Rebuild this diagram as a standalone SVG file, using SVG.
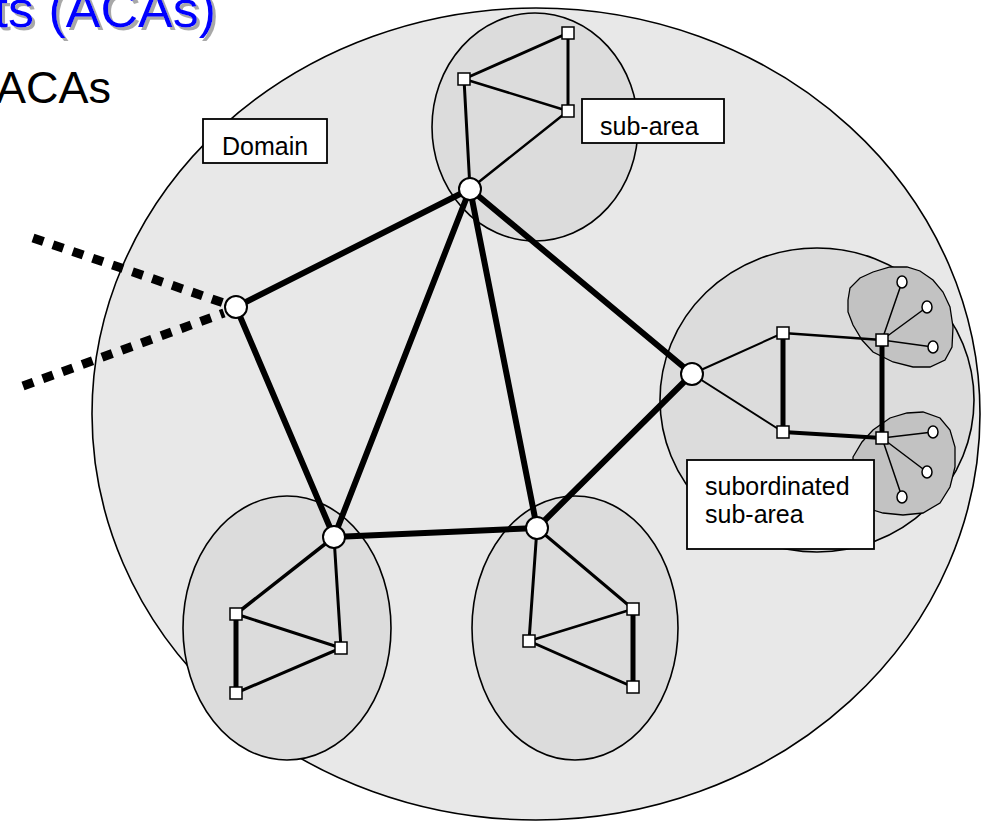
<svg xmlns="http://www.w3.org/2000/svg" width="982" height="822" viewBox="0 0 982 822">
<style>
.area{stroke:#000;stroke-width:1.6}
.dom{fill:#e8e8e8}
.sub{fill:#dcdcdc}
.blob{fill:#c2c2c2;stroke:#000;stroke-width:1.3}
.e{stroke:#000;stroke-linecap:round;fill:none}
.dot{stroke:#000;stroke-width:9;stroke-dasharray:11 10;fill:none}
.n{fill:#fff;stroke:#000;stroke-width:2}
.sq{fill:#fff;stroke:#000;stroke-width:1.5}
.lbl{fill:#fff;stroke:#000;stroke-width:1.8}
.t{font-family:"Liberation Sans",Arial,sans-serif;font-size:25px;fill:#000}
</style>
<defs>
<filter id="shadow" x="-10%" y="-30%" width="120%" height="160%">
<feOffset in="SourceAlpha" dx="3" dy="3" result="off"/>
<feFlood flood-color="#a8a8a8"/>
<feComposite in2="off" operator="in" result="sh"/>
<feMerge><feMergeNode in="sh"/><feMergeNode in="SourceGraphic"/></feMerge>
</filter>
</defs>
<rect width="982" height="822" fill="#fff"/>
<g id="title">
<text x="216" y="27" text-anchor="end" font-family="Liberation Sans, Arial, sans-serif" font-size="52" fill="#0000ff" filter="url(#shadow)">ts (ACAs)</text>
<text x="111" y="103" text-anchor="end" font-family="Liberation Sans, Arial, sans-serif" font-size="45" fill="#000">ACAs</text>
</g>
<g id="domain">
<ellipse class="area dom" cx="536" cy="414" rx="444" ry="406"/>
</g>
<g id="subarea-top"><ellipse class="area sub" cx="535" cy="127" rx="103" ry="114"/></g>
<g id="subarea-bl"><ellipse class="area sub" cx="287" cy="628" rx="104" ry="132"/></g>
<g id="subarea-bm"><ellipse class="area sub" cx="575" cy="628" rx="103" ry="132"/></g>
<g id="subarea-right"><ellipse class="area sub" cx="817" cy="400" rx="157" ry="152"/></g>
<g id="blob-top"><polygon class="blob" points="848,300 850,288 860,278 873,272 890,267 907,267 920,271 933,280 943,292 950,307 953,327 952,347 945,360 930,367 913,367 893,362 873,352 862,340 853,325 848,312"/></g>
<g id="blob-bottom"><polygon class="blob" points="853,457 862,442 873,430 890,418 907,413 923,412 940,418 950,430 955,447 955,467 950,487 940,503 923,513 903,515 883,513 873,510 857,497 853,480"/></g>
<g id="connectors">
<line class="dot" x1="33" y1="238" x2="224" y2="303"/>
<line class="dot" x1="23" y1="386" x2="224" y2="313"/>
<g class="e" stroke-width="6">
<line x1="236" y1="307" x2="470" y2="189"/>
<line x1="236" y1="307" x2="334" y2="537"/>
<line x1="470" y1="189" x2="334" y2="537"/>
<line x1="470" y1="189" x2="537" y2="528"/>
<line x1="470" y1="189" x2="692" y2="374"/>
<line x1="334" y1="537" x2="537" y2="528"/>
<line x1="537" y1="528" x2="692" y2="374"/>
</g>
<g class="e" stroke-width="3">
<line x1="464" y1="79" x2="568" y2="33"/>
<line x1="568" y1="33" x2="568" y2="111"/>
<line x1="464" y1="79" x2="568" y2="111" stroke-width="2.5"/>
<line x1="464" y1="79" x2="470" y2="189"/>
<line x1="568" y1="111" x2="470" y2="189" stroke-width="2.5"/>
<line x1="334" y1="537" x2="236" y2="614" stroke-width="3.5"/>
<line x1="334" y1="537" x2="341" y2="648"/>
<line x1="236" y1="614" x2="341" y2="648"/>
<line x1="236" y1="614" x2="236" y2="693" stroke-width="5"/>
<line x1="236" y1="693" x2="341" y2="648"/>
<line x1="537" y1="528" x2="529" y2="641"/>
<line x1="537" y1="528" x2="633" y2="609"/>
<line x1="633" y1="609" x2="529" y2="641" stroke-width="2.5"/>
<line x1="529" y1="641" x2="633" y2="687"/>
<line x1="633" y1="609" x2="633" y2="687" stroke-width="5"/>
<line x1="692" y1="374" x2="783" y2="333" stroke-width="2"/>
<line x1="692" y1="374" x2="783" y2="432" stroke-width="2"/>
<line x1="783" y1="333" x2="783" y2="432" stroke-width="5"/>
<line x1="783" y1="333" x2="882" y2="340" stroke-width="2.5"/>
<line x1="783" y1="432" x2="882" y2="438" stroke-width="4"/>
<line x1="882" y1="340" x2="882" y2="438" stroke-width="5"/>
</g>
<g class="e" stroke-width="1.5">
<line x1="882" y1="340" x2="902" y2="282"/>
<line x1="882" y1="340" x2="927" y2="307"/>
<line x1="882" y1="340" x2="933" y2="347"/>
<line x1="882" y1="438" x2="933" y2="432"/>
<line x1="882" y1="438" x2="927" y2="472"/>
<line x1="882" y1="438" x2="902" y2="497"/>
</g>
</g>
<g id="node-left"><circle class="n" cx="236" cy="307" r="11"/></g>
<g id="node-top"><circle class="n" cx="470" cy="189" r="11"/></g>
<g id="node-bl"><circle class="n" cx="334" cy="537" r="11"/></g>
<g id="node-bm"><circle class="n" cx="537" cy="528" r="11"/></g>
<g id="node-right"><circle class="n" cx="692" cy="374" r="11"/></g>
<g id="sq-t1"><rect class="sq" x="562" y="27" width="12" height="12"/></g>
<g id="sq-t2"><rect class="sq" x="458" y="73" width="12" height="12"/></g>
<g id="sq-t3"><rect class="sq" x="562" y="105" width="12" height="12"/></g>
<g id="sq-bl1"><rect class="sq" x="230" y="608" width="12" height="12"/></g>
<g id="sq-bl2"><rect class="sq" x="335" y="642" width="12" height="12"/></g>
<g id="sq-bl3"><rect class="sq" x="230" y="687" width="12" height="12"/></g>
<g id="sq-bm1"><rect class="sq" x="627" y="603" width="12" height="12"/></g>
<g id="sq-bm2"><rect class="sq" x="523" y="635" width="12" height="12"/></g>
<g id="sq-bm3"><rect class="sq" x="627" y="681" width="12" height="12"/></g>
<g id="sq-r1"><rect class="sq" x="777" y="327" width="12" height="12"/></g>
<g id="sq-r2"><rect class="sq" x="777" y="426" width="12" height="12"/></g>
<g id="sq-r3"><rect class="sq" x="876" y="334" width="12" height="12"/></g>
<g id="sq-r4"><rect class="sq" x="876" y="432" width="12" height="12"/></g>
<g id="leaf-1"><ellipse class="sq" cx="902" cy="282" rx="5" ry="6"/></g>
<g id="leaf-2"><ellipse class="sq" cx="927" cy="307" rx="5" ry="6"/></g>
<g id="leaf-3"><ellipse class="sq" cx="933" cy="347" rx="5" ry="6"/></g>
<g id="leaf-4"><ellipse class="sq" cx="933" cy="432" rx="5" ry="6"/></g>
<g id="leaf-5"><ellipse class="sq" cx="927" cy="472" rx="5" ry="6"/></g>
<g id="leaf-6"><ellipse class="sq" cx="902" cy="497" rx="5" ry="6"/></g>
<g id="label-domain"><rect class="lbl" x="203" y="119" width="124" height="44"/><text class="t" x="222" y="155">Domain</text></g>
<g id="label-subarea"><rect class="lbl" x="582" y="99" width="142" height="44"/><text class="t" x="600" y="135">sub-area</text></g>
<g id="label-subordinated"><rect class="lbl" x="687" y="460" width="187" height="89"/><text class="t" x="705" y="495">subordinated</text><text class="t" x="705" y="523">sub-area</text></g>
</svg>
